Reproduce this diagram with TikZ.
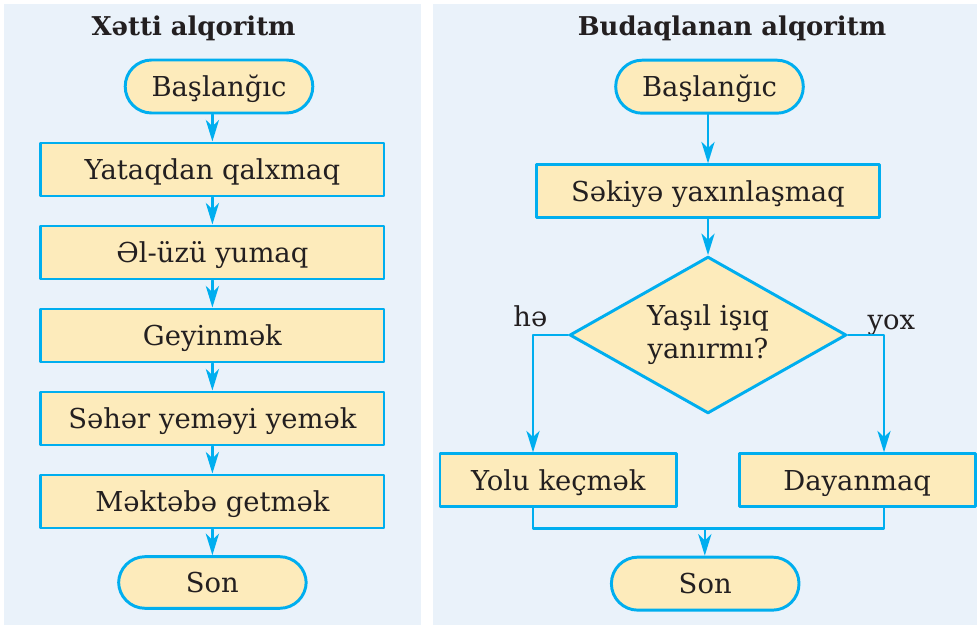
\documentclass[tikz,border=0pt]{standalone}
\usepackage{fontspec}
\setmainfont{DejaVu Serif}
\usetikzlibrary{shapes.geometric,arrows.meta}

\definecolor{panelbg}{HTML}{EAF2FA}
\definecolor{boxfill}{HTML}{FDEBBB}
\definecolor{flowline}{HTML}{00AEEF}
\definecolor{inkdark}{HTML}{231F20}

\begin{document}
\begin{tikzpicture}[line cap=round,line join=round,
    >={Stealth[length=5.4mm,width=3.3mm,inset=1.6mm]},
    every node/.style={inner sep=1pt,text=inkdark,font=\fontsize{19.5}{23.5}\selectfont},
    actbox/.style={rectangle,draw=flowline,fill=boxfill,line width=2.1pt,
      minimum height=1.325cm,text height=0.5cm,text depth=0pt},
    termbox/.style={actbox,rounded corners=0.66cm,minimum width=4.69cm},
    testbox/.style={diamond,draw=flowline,fill=boxfill,line width=2.1pt,aspect=1.76,
      minimum width=6.92cm,minimum height=3.92cm,inner sep=0pt,align=center},
    flow/.style={draw=flowline,line width=1.8pt},
    heading/.style={font=\fontsize{18.4}{21}\selectfont\bfseries}]
  \useasboundingbox (0,0) rectangle (24.425,-15.65);
  % two panels
  \fill[panelbg] (0.1,-0.1) rectangle (10.52,-15.625);
  \fill[panelbg] (10.825,-0.1) rectangle (24.425,-15.625);

  % left: linear algorithm
  \node[heading,anchor=base] (title1) at (4.84,-0.9) {Xətti alqoritm};
  \node[termbox] (start1) at (5.475,-2.1625) {Başlanğıc};
  \node[actbox,minimum width=8.58cm] (act1) at (5.31,-4.2375) {Yataqdan qalxmaq};
  \node[actbox,minimum width=8.58cm] (act2) at (5.31,-6.3125) {Əl-üzü yumaq};
  \node[actbox,minimum width=8.58cm] (act3) at (5.31,-8.3875) {Geyinmək};
  \node[actbox,minimum width=8.58cm] (act4) at (5.31,-10.4625) {Səhər yeməyi yemək};
  \node[actbox,minimum width=8.58cm] (act5) at (5.31,-12.5375) {Məktəbə getmək};
  \node[termbox,minimum height=1.29cm] (stop1) at (5.31,-14.5625) {Son};
  \draw[flow,->] (start1.south -| act1.north) -- (act1.north);
  \foreach \a/\b in {act1/act2,act2/act3,act3/act4,act4/act5,act5/stop1}
    \draw[flow,->] (\a.south) -- (\b.north);

  % right: branching algorithm
  \node[heading,anchor=base] (title2) at (18.3,-0.9) {Budaqlanan alqoritm};
  \node[termbox] (start2) at (17.7375,-2.1675) {Başlanğıc};
  \node[actbox,minimum width=8.58cm] (near2) at (17.7,-4.784) {Səkiyə yaxınlaşmaq};
  \node[testbox] (light2) at (17.7,-8.375) {Yaşıl işıq\\yanırmı?};
  \node[actbox,minimum width=5.92cm] (cross2) at (13.96,-12.009) {Yolu keçmək};
  \node[actbox,minimum width=5.9cm] (wait2) at (21.43,-12.009) {Dayanmaq};
  \node[termbox] (stop2) at (17.63,-14.591) {Son};
  \node[anchor=base east] (yes2) at (13.725,-8.15) {hə};
  \node[anchor=base west] (no2) at (21.65,-8.24) {yox};

  \coordinate (yesbend) at (13.325,-8.375);
  \coordinate (nobend) at (22.1,-8.375);
  \coordinate (join2) at (17.62,-13.2075);
  \draw[flow,->] (start2.south -| near2.north) -- (near2.north);
  \draw[flow,->] (near2.south) -- (light2.north);
  \draw[flow,->] (light2.west) -- (yesbend) -- (yesbend |- cross2.north);
  \draw[flow,->] (light2.east) -- (nobend) -- (nobend |- wait2.north);
  \draw[flow] (yesbend |- cross2.south) -- (yesbend |- join2) -- (nobend |- join2) -- (nobend |- wait2.south);
  \draw[flow,->] (join2) -- (join2 |- stop2.north);
\end{tikzpicture}
\end{document}
